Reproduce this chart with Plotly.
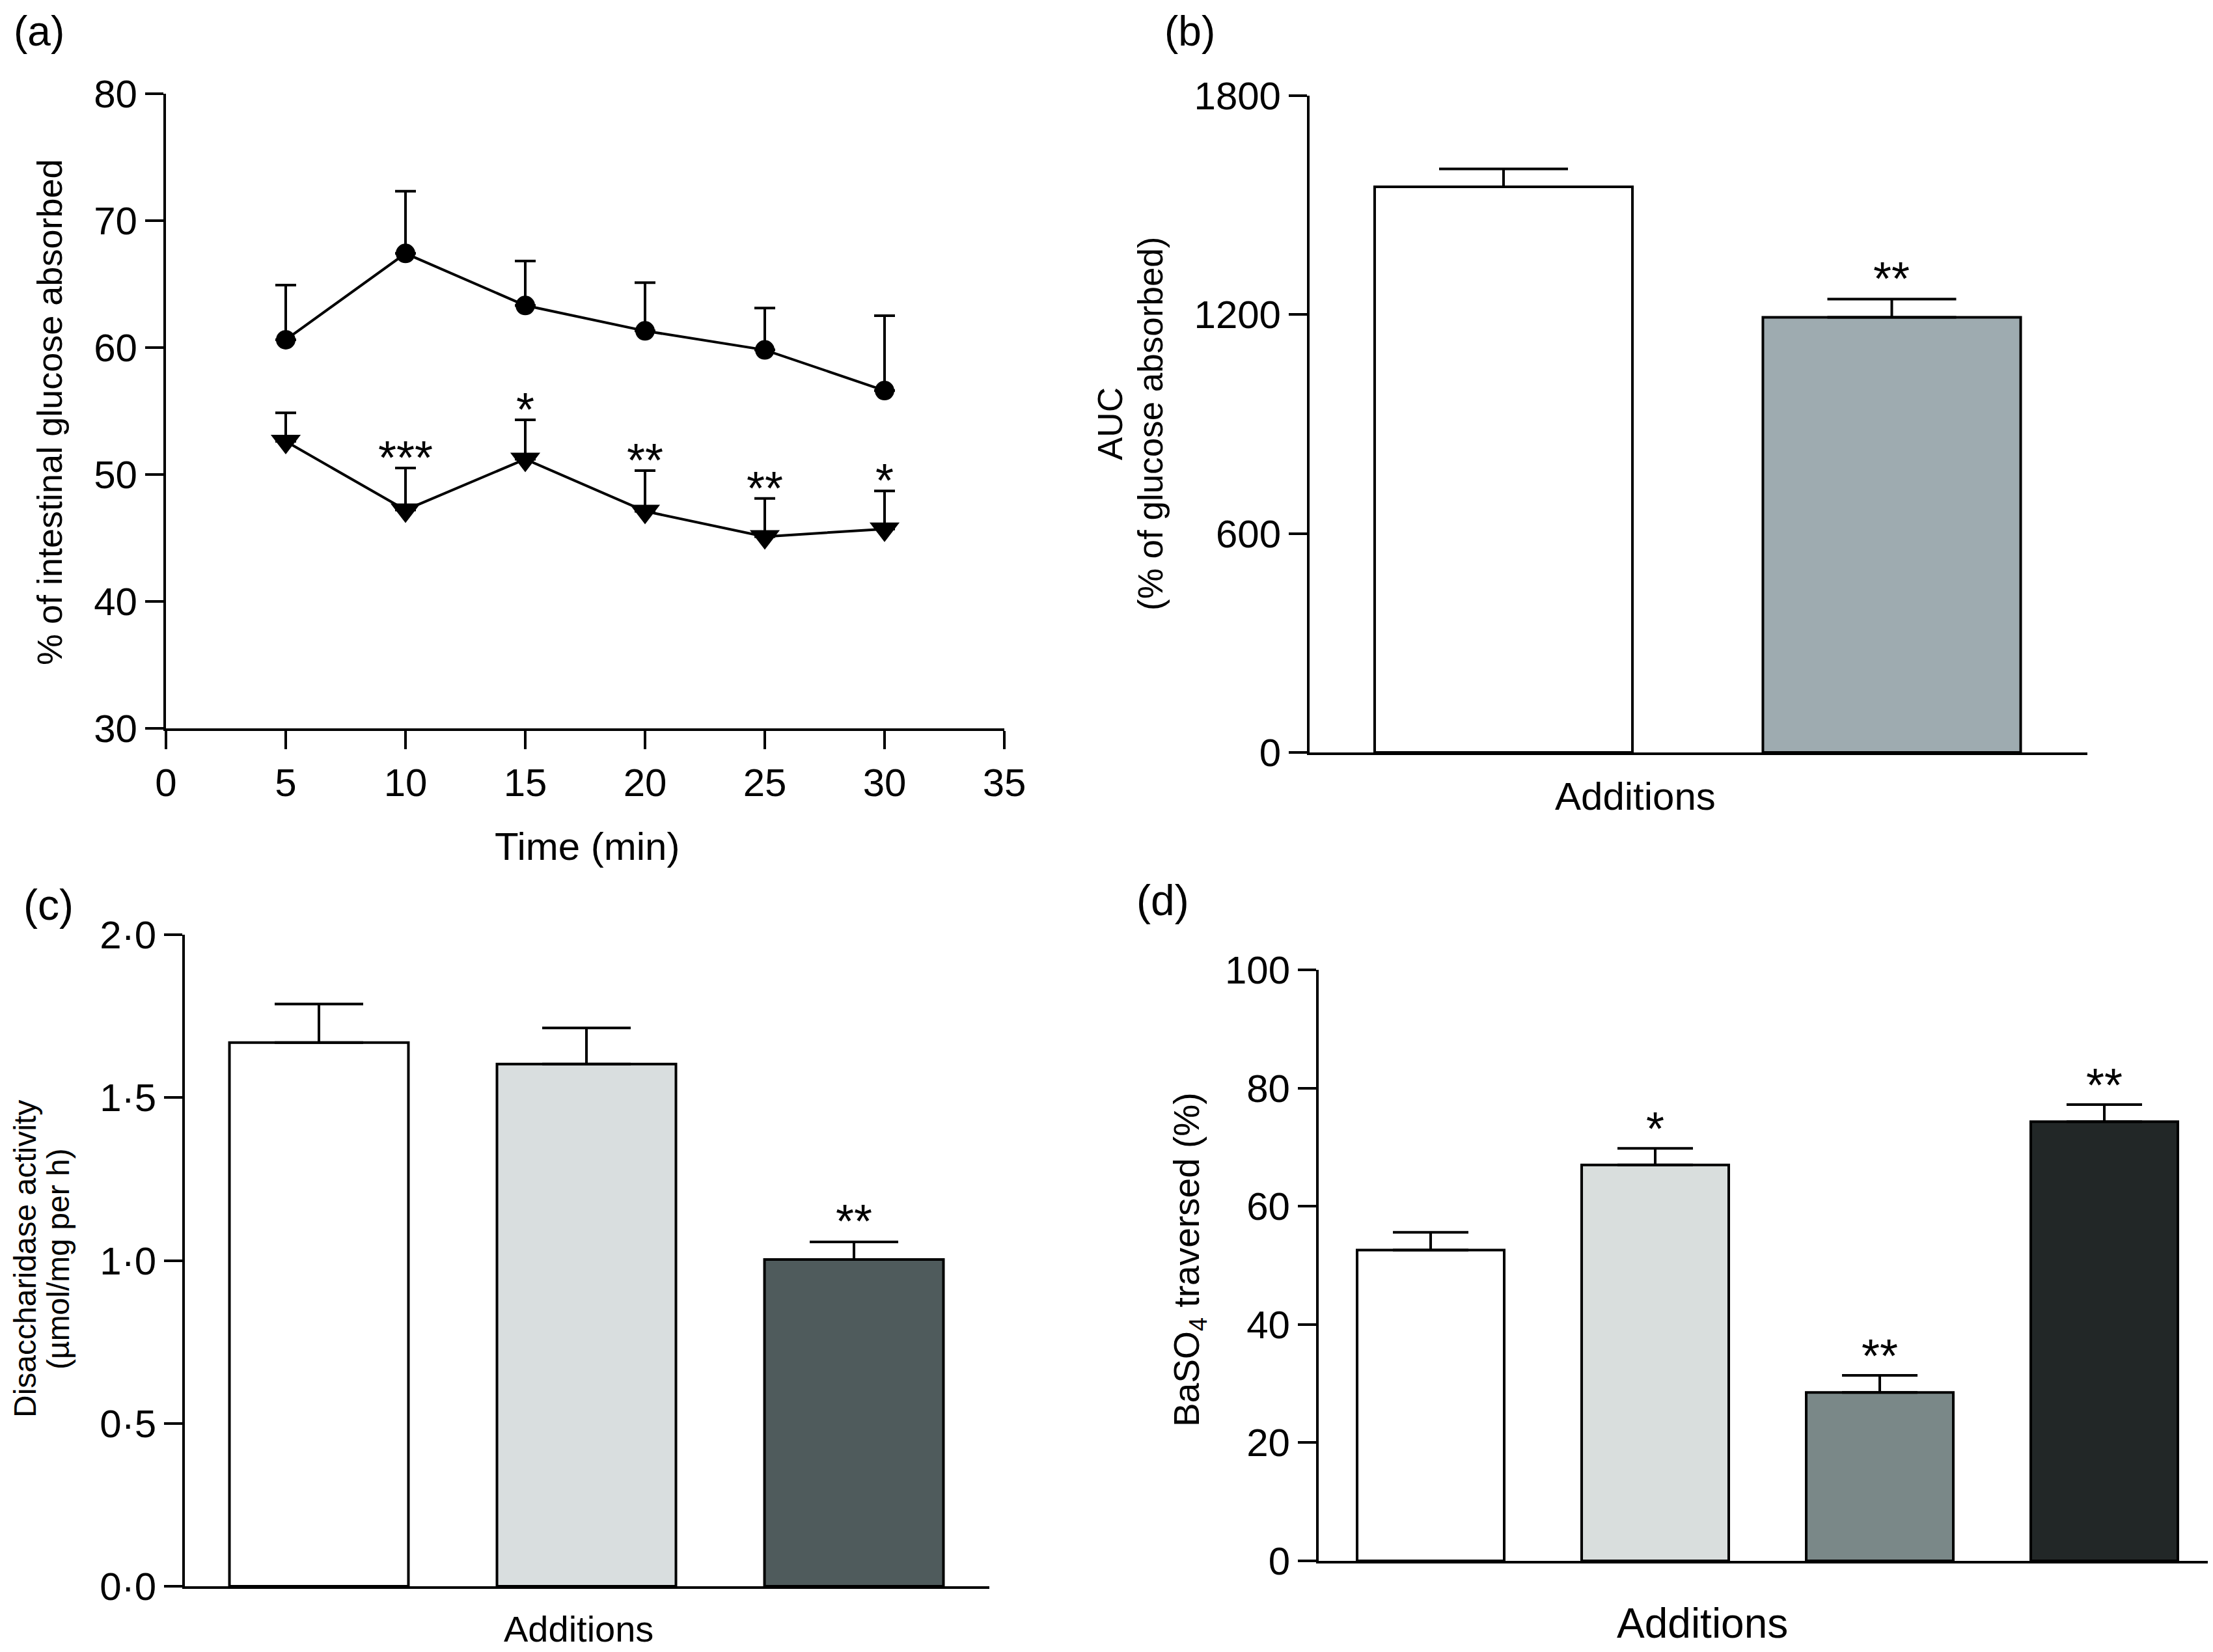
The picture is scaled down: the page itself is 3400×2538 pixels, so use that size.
import plotly.graph_objects as go

# ---------------- data ----------------
time_min = [5, 10, 15, 20, 25, 30]
control_mean = [60.6, 67.4, 63.3, 61.3, 59.8, 56.6]
control_sem = [4.3, 4.9, 3.5, 3.8, 3.3, 5.9]
treated_mean = [52.6, 47.2, 51.2, 47.1, 45.1, 45.7]
treated_sem = [2.25, 3.3, 3.1, 3.2, 3.0, 3.0]
treated_sig = ["", "***", "*", "**", "**", "*"]

auc_mean = [1550, 1192]
auc_sem = [49, 50]
auc_sig = ["", "**"]
auc_colors = ["#ffffff", "#9eabb0"]

dis_mean = [1.669, 1.603, 1.003]
dis_sem = [0.118, 0.111, 0.054]
dis_sig = ["", "", "**"]
dis_colors = ["#ffffff", "#d9dedf", "#4f5b5c"]

baso_mean = [52.6, 67.0, 28.5, 74.3]
baso_sem = [3.0, 2.8, 2.9, 2.9]
baso_sig = ["", "*", "**", "**"]
baso_colors = ["#ffffff", "#d9dedd", "#7a8888", "#222727"]

a_xticks = [0, 5, 10, 15, 20, 25, 30, 35]
a_yticks = [30, 40, 50, 60, 70, 80]
b_yticks = [0, 600, 1200, 1800]
c_yticks = [0, 0.5, 1.0, 1.5, 2.0]
c_yticktext = ["0·0", "0·5", "1·0", "1·5", "2·0"]
d_yticks = [0, 20, 40, 60, 80, 100]

# ---------------- layout helpers ----------------
W, H = 3400, 2538
OFF = 8  # page body margin offset
FONT = "Liberation Sans, Arial, Helvetica, sans-serif"


def px_x(p):
    return (p - OFF) / W


def px_y(p):
    return 1 - (p - OFF) / H


fig = go.Figure()

# Panel (a)
fig.add_trace(go.Scatter(
    x=time_min, y=control_mean, mode="lines+markers",
    line=dict(color="black", width=4),
    marker=dict(symbol="circle", size=30, color="black"),
    error_y=dict(type="data", array=control_sem, arrayminus=[0] * len(control_sem),
                 symmetric=False, color="black", thickness=4, width=16),
    xaxis="x", yaxis="y", cliponaxis=False))
fig.add_trace(go.Scatter(
    x=time_min, y=treated_mean, mode="lines+markers",
    line=dict(color="black", width=4),
    marker=dict(symbol="triangle-down", size=40, color="black"),
    error_y=dict(type="data", array=treated_sem, arrayminus=[0] * len(treated_sem),
                 symmetric=False, color="black", thickness=4, width=16),
    xaxis="x", yaxis="y", cliponaxis=False))

# Panel (b)
fig.add_trace(go.Bar(
    x=list(range(len(auc_mean))), y=auc_mean, width=0.664,
    marker=dict(color=auc_colors, line=dict(color="black", width=4)),
    error_y=dict(type="data", array=auc_sem, arrayminus=[0] * len(auc_sem),
                 symmetric=False, color="black", thickness=4, width=99),
    xaxis="x2", yaxis="y2", cliponaxis=False))

# Panel (c)
fig.add_trace(go.Bar(
    x=list(range(len(dis_mean))), y=dis_mean, width=0.669,
    marker=dict(color=dis_colors, line=dict(color="black", width=4)),
    error_y=dict(type="data", array=dis_sem, arrayminus=[0] * len(dis_sem),
                 symmetric=False, color="black", thickness=4, width=68),
    xaxis="x3", yaxis="y3", cliponaxis=False))

# Panel (d)
fig.add_trace(go.Bar(
    x=list(range(len(baso_mean))), y=baso_mean, width=0.655,
    marker=dict(color=baso_colors, line=dict(color="black", width=4)),
    error_y=dict(type="data", array=baso_sem, arrayminus=[0] * len(baso_sem),
                 symmetric=False, color="black", thickness=4, width=58),
    xaxis="x4", yaxis="y4", cliponaxis=False))

axis_common = dict(showline=True, linecolor="black", linewidth=4, ticks="outside",
                   ticklen=28, tickwidth=4, tickcolor="black", showgrid=False,
                   zeroline=False, automargin=False,
                   tickfont=dict(family=FONT, size=60, color="black"))

bar_x_common = dict(showline=True, linecolor="black", linewidth=4, ticks="",
                    showticklabels=False, showgrid=False, zeroline=False,
                    automargin=False)

fig.update_layout(
    width=W, height=H,
    margin=dict(l=0, r=0, t=0, b=0, pad=0, autoexpand=False),
    paper_bgcolor="white", plot_bgcolor="white", showlegend=False,
    font=dict(family=FONT, color="black"),
    xaxis=dict(domain=[px_x(255), px_x(1543)], range=[0, 35], tickvals=a_xticks,
               anchor="y", **axis_common),
    yaxis=dict(domain=[px_y(1119), px_y(143.5)], range=[30, 80], tickvals=a_yticks,
               anchor="x", **axis_common),
    xaxis2=dict(domain=[px_x(2012), px_x(3207)], range=[-0.4996, 1.5038],
                anchor="y2", **bar_x_common),
    yaxis2=dict(domain=[px_y(1156), px_y(146.7)], range=[0, 1800], tickvals=b_yticks,
                anchor="x2", **axis_common),
    xaxis3=dict(domain=[px_x(284), px_x(1520)], range=[-0.5012, 2.506],
                anchor="y3", **bar_x_common),
    yaxis3=dict(domain=[px_y(2437), px_y(1436)], range=[0, 2], tickvals=c_yticks,
                ticktext=c_yticktext, anchor="x3", **axis_common),
    xaxis4=dict(domain=[px_x(2026), px_x(3400)], range=[-0.4986, 3.484],
                anchor="y4", **bar_x_common),
    yaxis4=dict(domain=[px_y(2398), px_y(1490)], range=[0, 100], tickvals=d_yticks,
                anchor="x4", **axis_common),
)

annotations = []

# significance stars
STAR = dict(family=FONT, size=72, color="black")
for xv, m, s, t in zip(time_min, treated_mean, treated_sem, treated_sig):
    if t:
        annotations.append(dict(x=xv, y=m + s, xref="x", yref="y", text=t, showarrow=False,
                                yanchor="bottom", xanchor="center", yshift=-26, font=STAR))
for i, (m, s, t) in enumerate(zip(auc_mean, auc_sem, auc_sig)):
    if t:
        annotations.append(dict(x=i, y=m + s, xref="x2", yref="y2", text=t, showarrow=False,
                                yanchor="bottom", xanchor="center", yshift=-10, font=STAR))
for i, (m, s, t) in enumerate(zip(dis_mean, dis_sem, dis_sig)):
    if t:
        annotations.append(dict(x=i, y=m + s, xref="x3", yref="y3", text=t, showarrow=False,
                                yanchor="bottom", xanchor="center", yshift=-10, font=STAR))
for i, (m, s, t) in enumerate(zip(baso_mean, baso_sem, baso_sig)):
    if t:
        annotations.append(dict(x=i, y=m + s, xref="x4", yref="y4", text=t, showarrow=False,
                                yanchor="bottom", xanchor="center", yshift=-12, font=STAR))


def label(text, x, y, size, angle=0):
    annotations.append(dict(text=text, x=px_x(x), y=px_y(y), xref="paper", yref="paper",
                            showarrow=False, xanchor="center", yanchor="middle",
                            textangle=angle, font=dict(family=FONT, size=size, color="black")))


# panel letters
label("(a)", 60, 48, 64)
label("(b)", 1828, 48, 64)
label("(c)", 74, 1390, 66)
label("(d)", 1786, 1383, 66)

# axis titles
label("Time (min)", 902, 1300, 60)
label("% of intestinal glucose absorbed", 76, 633, 54, -90)
label("AUC", 1706, 651, 53, -90)
label("(% of glucose absorbed)", 1768, 651, 53, -90)
label("Additions", 2512, 1223, 60)
label("Disaccharidase activity", 38, 1934, 48, -90)
label("(µmol/mg per h)", 89, 1934, 48, -90)
label("Additions", 889, 2502, 56)
label("BaSO<sub>4</sub> traversed (%)", 1827, 1935, 55, -90)
label("Additions", 2615, 2494, 64)

fig.update_layout(annotations=annotations)

fig.write_html("out.html")
